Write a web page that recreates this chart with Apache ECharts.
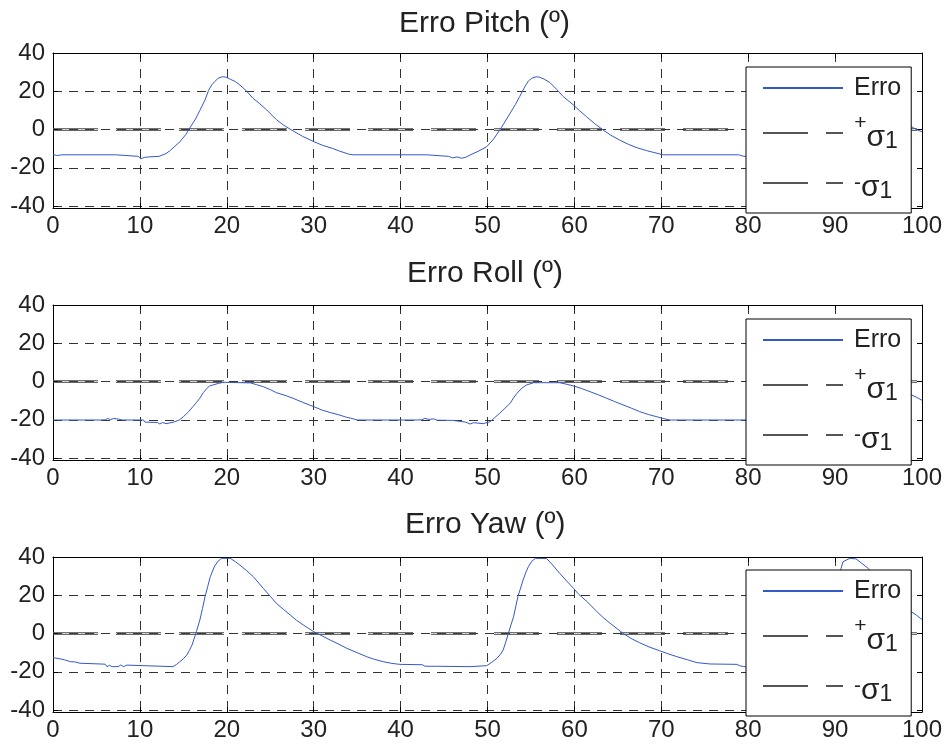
<!DOCTYPE html>
<html>
<head>
<meta charset="utf-8">
<script src="https://cdn.jsdelivr.net/npm/echarts@6.0.0/dist/echarts.min.js"></script>
<style>
html,body{margin:0;padding:0;background:#fff;}
#c{width:949px;height:749px;}
</style>
</head>
<body>
<div id="c"></div>
<script>
// ---------- data ----------
const titles = ['Erro Pitch (º)', 'Erro Roll (º)', 'Erro Yaw (º)'];
const seriesNames = ['Erro', '+σ1', '-σ1'];
const xTicks = [0, 10, 20, 30, 40, 50, 60, 70, 80, 90, 100];
const yTicks = [-40, -20, 0, 20, 40];
const sigmaPlus = 0.45;
const sigmaMinus = -0.45;

const pitchX = [0,0.5,1,7.2,7.4,9.8,10.1,10.5,11,12.2,13,13.5,14.6,15.3,15.8,16.4,16.9,17.5,17.9,18.3,18.6,19,19.5,19.9,20.4,21,21.5,22.3,23,23.8,24.6,25.7,26.5,27.5,28.7,30,31,32.2,33,34,34.5,43,43.2,45.5,46,46.5,47,47.5,48,49,49.9,50.7,51.4,52,52.6,53.2,53.7,54.3,54.7,55.1,55.6,56,56.5,57.2,58,58.7,59.9,60.6,61.4,62.3,63.3,64.2,65.2,66.2,67.2,68.3,69.5,70.2,78.9,79.5,82,83,84,85.5,87.5,89,90.5,91.4,92.5,94,96,97.5,98.3,98.8,99.3,100];
const pitchY = [-13,-13.6,-13.2,-13.2,-14,-14,-15.3,-14.6,-14.3,-14,-12.6,-10.9,-6.4,-2.5,1.3,5.5,10,15.5,20.5,23.5,25,26.8,27.6,27.4,26.3,25,23.3,20,16.4,13.5,10.2,5.2,2.4,-0.4,-3.5,-6.3,-8.2,-9.9,-11.3,-12.8,-13.2,-13.2,-13.9,-14,-14.8,-14.3,-15,-14.5,-13.3,-11.2,-9,-5,-0.3,4,8.5,13,17.2,22.4,25.3,26.8,27.6,27.3,26.4,24.5,20.8,17.3,12.8,9.8,6.7,3.2,-0.2,-3,-5.5,-7.7,-9.5,-11,-12.4,-13.2,-13.2,-14,-14,-14.6,-13.8,-10.5,1,15,25.5,27.6,25.8,19,10.5,5.5,3,1.5,0.1,-1.2];

const rollX = [0,5.5,5.7,6,6.3,6.6,7,7.5,8,10.4,10.6,12,12.3,12.6,13,13.8,14.5,15,15.6,16.1,16.5,16.9,17.3,17.7,18,18.4,19,19.6,22.7,23.4,24.2,25,25.7,26.7,27.6,28.8,30,30.9,31.9,32.9,33.8,34.4,35,41.8,42,42.4,42.8,43.3,43.8,44.2,46,46.1,47.5,48,48.4,49.5,50.3,50.8,51.4,52,52.6,53,53.4,54,54.5,55.3,58.3,59.1,59.9,60.8,61.8,62.8,63.7,64.6,65.6,66.6,67.5,68.5,69.5,70.3,71,78,78.2,78.5,80,82,84,85.5,86.5,88,89.5,90.5,91.5,94.3,96,97.5,98.8,99.4,100];
const rollY = [-20.1,-20.1,-19.4,-20,-19.3,-19.9,-19.3,-19.6,-20.1,-20.1,-21.2,-21.4,-22.2,-21.4,-22,-21.3,-20.2,-18.4,-15.8,-13.1,-11,-8.7,-5.8,-3.6,-2.4,-1.8,-1,-0.4,-0.7,-1.6,-2.7,-4.2,-5.8,-7.2,-8.7,-11,-13.1,-14.8,-16.2,-17.4,-18.7,-19.3,-20.1,-20.1,-19.4,-20,-19.3,-19.8,-19.5,-20.2,-20.3,-21,-21.2,-22.2,-21.5,-22,-21,-19,-16.6,-14,-11.4,-8.5,-6.1,-3.3,-1.8,-0.6,-0.6,-1.4,-2.3,-3.6,-5.3,-7,-8.7,-10.4,-12.2,-14,-15.7,-17.2,-18.4,-19.4,-20.1,-20.1,-19.5,-20.1,-20.1,-20.3,-21.5,-21.8,-20.5,-14,-6,-1.5,-0.5,-0.6,-2.4,-4.6,-7,-8.3,-9.8];

const yawX = [0,0.8,1.3,1.5,2,2.5,3.1,5.4,6,6.2,6.5,6.8,7.5,7.8,8.1,8.5,8.7,13.8,14.2,14.6,15,15.4,15.7,16,16.5,16.9,17.2,17.5,17.8,18.1,18.6,19,19.4,20.4,21,21.5,22.3,23.05,24.2,25,25.7,26.5,27.3,28,28.8,30,31,31.9,32.9,33.8,35,36.1,37,38,39,39.9,42.5,42.8,43.6,43.8,44,48,49.9,50.5,51.1,51.5,51.8,52.1,52.4,52.7,53,53.5,54.1,54.4,54.7,55.1,55.5,56.8,57.5,58.3,59.1,59.9,60.5,61.5,62.6,63.3,64.1,65.6,66.5,67.5,68.6,69.8,70.8,71.8,73,74.1,75.6,78.7,79,79.5,84,86.5,87.3,88,88.4,89,89.6,90.2,90.7,90.9,91.7,92.4,93,93.8,95,96.5,97.7,98.8,99.4,99.8,100];
const yawY = [-12.6,-13.2,-13.7,-14.5,-14.7,-14.8,-15.5,-15.9,-16,-17.3,-16.6,-17.3,-17.3,-16.4,-17.3,-16.5,-17.3,-17.3,-16.2,-14.7,-13.2,-11.2,-8.8,-6,1,7.1,13,19.3,24.5,29.7,35.3,37.8,39.3,39.3,37.5,35.8,32.8,29.7,23.6,19.5,15.8,12.7,9.7,7,4.5,1,-1.3,-3.4,-5.6,-7.7,-10,-12.1,-13.5,-14.7,-15.6,-16.1,-16.3,-17.1,-17.1,-16.2,-17.1,-17.3,-16.8,-15,-12.9,-10.8,-8.6,-4.5,0.1,4.5,8.8,19.3,28,31.8,34.9,37.8,39.3,39.2,35.8,31.5,27.5,23.6,20.5,16.5,11.4,8.4,5.4,0.1,-2.5,-4.8,-7,-9,-10.6,-12.1,-13.7,-15.2,-15.9,-16.1,-16.8,-17.3,-17.3,-16.5,-13,-6,0,9,20,28,34.1,37.5,39.3,39,37,34.1,28,21,15.5,11.4,9.5,8,7.5];

const errX = [pitchX, rollX, yawX];
const errY = [pitchY, rollY, yawY];

// ---------- layout / style ----------
const FONT = "'Liberation Sans', Arial, Helvetica, sans-serif";
const gridTops = [53, 305, 557];
const gridH = 155;
const titleTops = [9, 259, 510];
const titleLefts = [399, 407, 405];
const legendTops = [67, 319, 570];
const BLUE = '#3558c8';
const GRIDCOL = '#333';
const SIGCOL = '#555';

const zip = (xs, ys) => xs.map((x, i) => [x, ys[i]]);

const grid = [], xAxis = [], yAxis = [], series = [], title = [], legend = [];

for (let i = 0; i < 3; i++) {
  grid.push({left: 53, right: 27, top: gridTops[i], height: gridH, containLabel: false});
  title.push({
    text: titles[i], left: titleLefts[i], top: titleTops[i], padding: 0,
    textStyle: {fontFamily: FONT, fontSize: 30, fontWeight: 'normal', color: '#222'}
  });
  xAxis.push({
    type: 'value', gridIndex: i, min: 0, max: 100, interval: 10, position: 'bottom',
    axisLine: {show: true, onZero: false, lineStyle: {color: '#000', width: 1}},
    axisTick: {show: true, inside: true, length: 5, lineStyle: {color: '#000'}},
    axisLabel: {fontFamily: FONT, fontSize: 24, color: '#222', margin: 6,
      formatter: v => xTicks.includes(v) ? String(v) : ''},
    splitLine: {show: true, lineStyle: {color: GRIDCOL, width: 1, type: [9, 7]}}
  });
  xAxis.push({
    type: 'value', gridIndex: i, min: 0, max: 100, interval: 10, position: 'top',
    axisLine: {show: true, onZero: false, lineStyle: {color: '#000', width: 1}},
    axisTick: {show: true, inside: true, length: 5, lineStyle: {color: '#000'}},
    axisLabel: {show: false}, splitLine: {show: false}
  });
  yAxis.push({
    type: 'value', gridIndex: i, min: -41, max: 40, position: 'left',
    axisLine: {show: true, onZero: false, lineStyle: {color: '#000', width: 1}},
    axisTick: {show: true, inside: true, length: 5, lineStyle: {color: '#000'}},
    axisLabel: {fontFamily: FONT, fontSize: 24, color: '#222', margin: 8,
      formatter: v => yTicks.includes(v) ? String(v) : ''},
    splitLine: {show: true, lineStyle: {color: GRIDCOL, width: 1, type: [9, 7]}}
  });
  yAxis.push({
    type: 'value', gridIndex: i, min: -41, max: 40, position: 'right',
    axisLine: {show: true, onZero: false, lineStyle: {color: '#000', width: 1}},
    axisTick: {show: true, inside: true, length: 5, lineStyle: {color: '#000'}},
    axisLabel: {show: false}, splitLine: {show: false}
  });

  series.push({
    name: seriesNames[0], type: 'line', xAxisIndex: 2 * i, yAxisIndex: 2 * i,
    data: zip(errX[i], errY[i]), symbol: 'none', showSymbol: false,
    lineStyle: {color: BLUE, width: 1}, itemStyle: {color: BLUE}, z: 3, animation: false
  });
  series.push({
    name: seriesNames[1], type: 'line', xAxisIndex: 2 * i, yAxisIndex: 2 * i,
    data: [[0, sigmaPlus], [100, sigmaPlus]], symbol: 'none', showSymbol: false,
    lineStyle: {color: SIGCOL, width: 1, type: [45, 18]}, itemStyle: {color: SIGCOL}, z: 2, animation: false
  });
  series.push({
    name: seriesNames[2], type: 'line', xAxisIndex: 2 * i, yAxisIndex: 2 * i,
    data: [[0, sigmaMinus], [100, sigmaMinus]], symbol: 'none', showSymbol: false,
    lineStyle: {color: SIGCOL, width: 1, type: [45, 18]}, itemStyle: {color: SIGCOL}, z: 2, animation: false
  });

  legend.push({
    orient: 'vertical', left: 746, top: legendTops[i],
    data: seriesNames, selectedMode: false,
    itemWidth: 80, itemHeight: 10, itemGap: 10,
    padding: [6, 10, 10, 16],
    backgroundColor: '#fff', borderColor: '#000', borderWidth: 1, borderRadius: 0,
    z: 10,
    itemStyle: {opacity: 0},
    formatter: function (name) {
      if (name === '+σ1') return '{z| }{p|+}{s|σ}{b|1}';
      if (name === '-σ1') return '{m|-}{s2|σ}{b2|1}';
      return name;
    },
    textStyle: {
      fontFamily: FONT, fontSize: 25, color: '#222', lineHeight: 30, padding: [0, 0, 0, 6],
      rich: {
        z: {fontSize: 1, lineHeight: 40},
        p: {fontFamily: FONT, fontSize: 21, lineHeight: 16, verticalAlign: 'top', color: '#222'},
        s: {fontFamily: FONT, fontSize: 30, lineHeight: 30, verticalAlign: 'bottom', color: '#222'},
        b: {fontFamily: FONT, fontSize: 23, lineHeight: 22, verticalAlign: 'bottom', color: '#222'},
        m: {fontFamily: FONT, fontSize: 21, lineHeight: 40, verticalAlign: 'middle', color: '#222'},
        s2: {fontFamily: FONT, fontSize: 30, lineHeight: 28, verticalAlign: 'bottom', color: '#222'},
        b2: {fontFamily: FONT, fontSize: 23, lineHeight: 18, verticalAlign: 'bottom', color: '#222'}
      }
    }
  });
}

const chart = echarts.init(document.getElementById('c'), null, {renderer: 'canvas'});
chart.setOption({
  animation: false,
  backgroundColor: '#fff',
  title, grid, xAxis, yAxis, legend, series
});
</script>
</body>
</html>
